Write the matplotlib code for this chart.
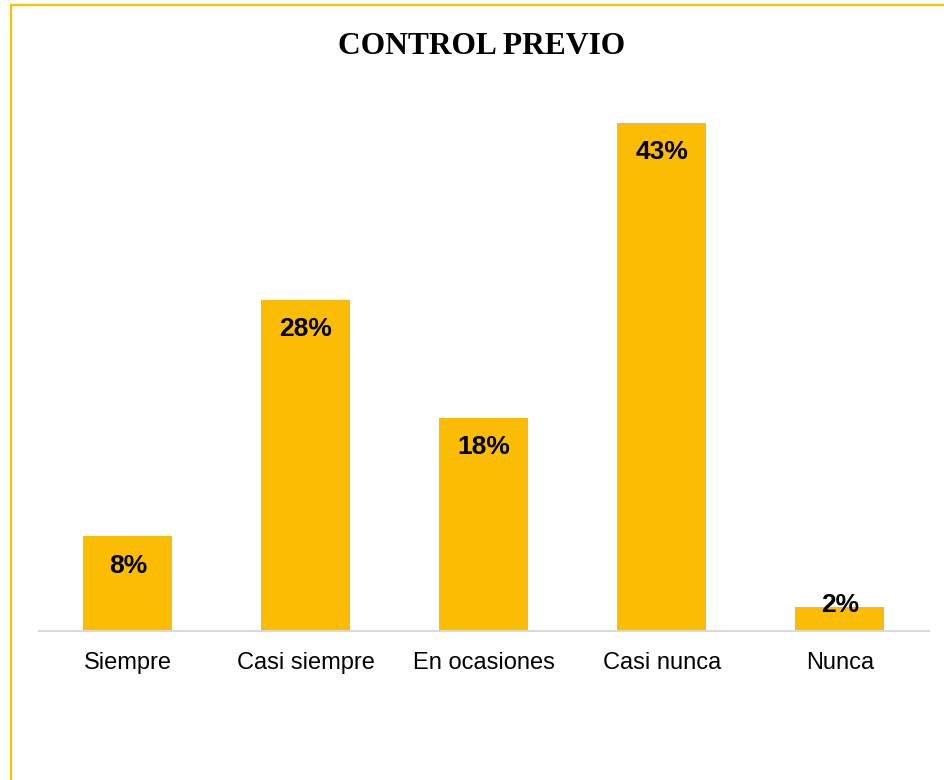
import matplotlib
matplotlib.use("Agg")
import matplotlib.pyplot as plt
from matplotlib.lines import Line2D

categories = ["Siempre", "Casi siempre", "En ocasiones", "Casi nunca", "Nunca"]
values = [8, 28, 18, 43, 2]
labels = ["8%", "28%", "18%", "43%", "2%"]
title = "CONTROL PREVIO"

W, H = 945, 780
DPI = 100
BAR = "#FBBD04"
GOLD = "#FFC000"

fig = plt.figure(figsize=(W / DPI, H / DPI), dpi=DPI)
fig.patch.set_facecolor("white")

# axes in pixel terms
left, right, base, top = 39, 929, 631, 40
ax = fig.add_axes([left / W, 1 - base / H, (right - left) / W, (base - top) / H])
ax.set_xlim(-0.5, len(categories) - 0.5)
ax.set_ylim(0, 50)

x = range(len(categories))
ax.bar(x, values, width=0.5, color=BAR, zorder=2)

for xi, v, lab in zip(x, values, labels):
    # labels sit inside the bar top; bars too short for that get the label on the bar edge
    dy = -21 if v >= 5 else 2
    ax.annotate(lab, (xi, v), xytext=(0, dy), textcoords="offset points",
                ha="center", va="center", fontsize=19, fontweight="bold",
                family="Liberation Sans", color="black", zorder=3)

for s in ["top", "right", "left"]:
    ax.spines[s].set_visible(False)
ax.spines["bottom"].set_color("#D9D9D9")
ax.spines["bottom"].set_linewidth(1.5)
ax.set_yticks([])
ax.set_xticks(list(x))
ax.set_xticklabels(categories, fontsize=17, family="Liberation Sans", color="black")
ax.tick_params(axis="x", length=0, pad=15)

fig.text(482 / W, 1 - 46 / H, title, ha="center", va="center",
         fontsize=22.7, fontweight="bold", family="Liberation Serif", color="black")

# chart frame
fig.add_artist(Line2D([10.5 / W, 10.5 / W], [1 - 4 / H, 0], transform=fig.transFigure,
                      color=GOLD, linewidth=1.6, solid_capstyle="butt"))
fig.add_artist(Line2D([10 / W, 1], [1 - 5 / H, 1 - 5 / H], transform=fig.transFigure,
                      color=GOLD, linewidth=1.6, solid_capstyle="butt"))

fig.savefig("out.png", dpi=DPI, facecolor="white")
